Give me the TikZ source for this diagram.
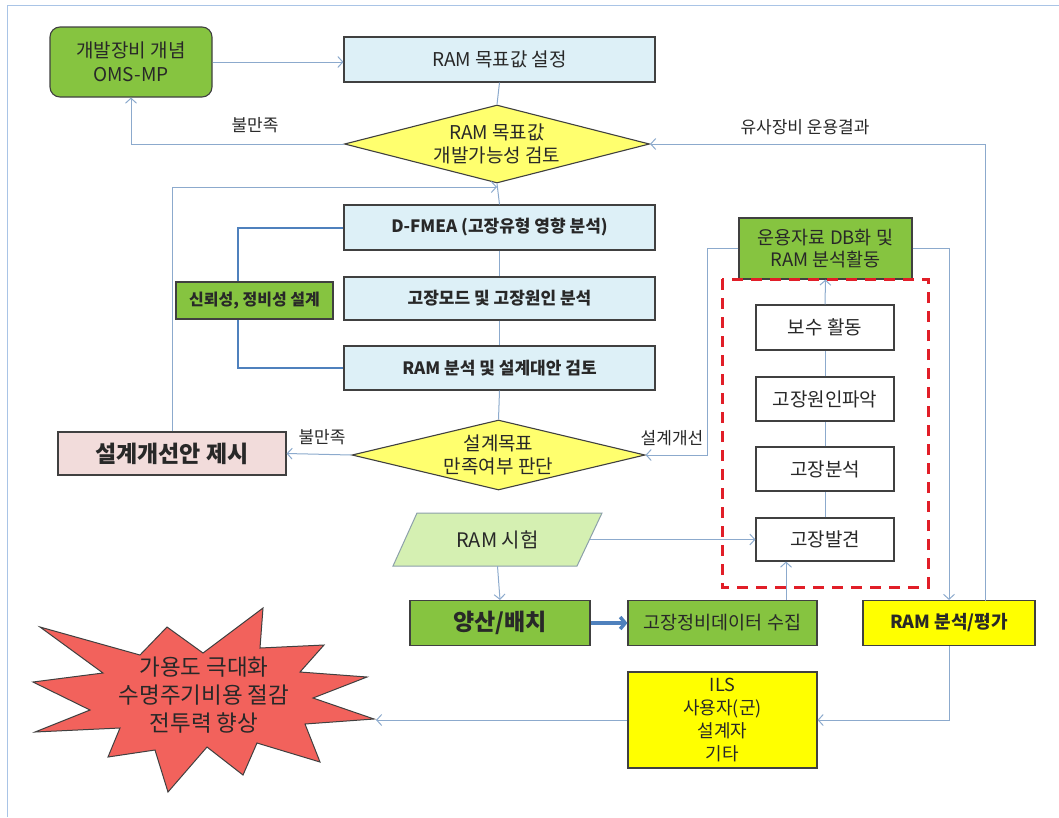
\documentclass[tikz,border=0pt]{standalone}
\usepackage{fontspec}
\setmainfont{Noto Sans CJK KR}
\usetikzlibrary{arrows.meta,shapes.geometric,calc}
\definecolor{framec}{RGB}{169,196,230}
\definecolor{connc}{RGB}{140,170,205}
\definecolor{bracketc}{RGB}{79,129,189}
\definecolor{boxline}{RGB}{64,64,64}
\definecolor{lblue}{RGB}{221,240,247}
\definecolor{greenf}{RGB}{134,196,64}
\definecolor{ydia}{RGB}{255,255,110}
\definecolor{ybox}{RGB}{255,255,0}
\definecolor{pinkf}{RGB}{242,220,219}
\definecolor{starf}{RGB}{242,98,92}
\definecolor{redd}{RGB}{225,30,40}
\definecolor{rtfill}{RGB}{213,240,178}
\definecolor{rtline}{RGB}{140,160,170}
\definecolor{txt}{RGB}{40,40,40}
\newcommand\myfs[2]{\fontsize{#1}{#2}\selectfont}
\begin{document}
\begin{tikzpicture}[x=1pt,y=-1pt,
  box/.style={draw=boxline, line width=1.1pt, inner sep=0pt, align=center, text=txt, font=\myfs{19}{23}},
  bluebox/.style={box, fill=lblue, minimum width=311pt, minimum height=45pt},
  greenbox/.style={box, fill=greenf},
  whitebox/.style={box, fill=white, minimum width=138pt, minimum height=44pt},
  dia/.style={box, shape=diamond, fill=ydia, draw=boxline},
  conn/.style={draw=connc, line width=1pt},
  arr/.style={conn, -{Straight Barb[length=5pt,width=11pt]}},
  lbl/.style={font=\myfs{17}{20}, text=txt, inner sep=0pt}]
\useasboundingbox (0,0) rectangle (1059,817);
% frame
\draw[framec, line width=1pt] (7,817) -- (7,5) -- (1059,5);

% nodes top
\node[greenbox, rounded corners=10pt, minimum width=162pt, minimum height=70pt, font=\myfs{19}{24}] (oms) at (131,62) {개발장비 개념\\OMS-MP};
\node[bluebox] (ramset) at (499.5,59.5) {RAM 목표값 설정};
\node[dia, aspect=3.9, minimum width=305pt, minimum height=78pt] (d1) at (497,144) {RAM 목표값\\개발가능성 검토};
\node[bluebox, font=\myfs{17}{22}\bfseries] (dfmea) at (499.5,227.5) {D-FMEA (고장유형 영향 분석)};
\node[bluebox, minimum height=43pt, font=\myfs{17}{22}\bfseries] (mode) at (499.5,298.5) {고장모드 및 고장원인 분석};
\node[bluebox, minimum height=44pt, font=\myfs{17}{22}\bfseries] (ramana) at (499.5,368) {RAM 분석 및 설계대안 검토};
\node[dia, aspect=4.2, minimum width=293pt, minimum height=70pt] (d2) at (498.5,455) {설계목표\\만족여부 판단};

% bracket (behind green box)
\draw[bracketc, line width=2pt] (dfmea.west) -- (238,227.5) -- (238,368) -- (ramana.west);
\node[greenbox, minimum width=157pt, minimum height=37pt, font=\myfs{16}{22}\bfseries] (reldes) at (254.5,300.5) {신뢰성, 정비성 설계};

\node[box, fill=pinkf, minimum width=228pt, minimum height=43pt, font=\myfs{23}{28}\bfseries] (improve) at (172,453.5) {설계개선안 제시};

% right column
\node[greenbox, minimum width=173pt, minimum height=61pt, font=\myfs{18.5}{22}] (opdb) at (825.5,248.5) {운용자료 DB화 및\\RAM 분석활동};
\draw[redd, line width=3pt, dash pattern=on 11pt off 8pt] (722,279) rectangle (928,587);
\node[whitebox, minimum height=45pt] (bosu) at (825,327.5) {보수 활동};
\node[whitebox] (cause) at (825,399) {고장원인파악};
\node[whitebox] (anal) at (825,469) {고장분석};
\node[whitebox, minimum height=43pt] (found) at (825,539.5) {고장발견};

% RAM test parallelogram
\filldraw[fill=rtfill, draw=rtline, line width=1pt] (393,566) -- (417,513) -- (602,513) -- (577,566) -- cycle;
\node[inner sep=0pt, minimum width=184pt, minimum height=53pt, font=\myfs{20}{24}, text=txt] (rt) at (497.5,539.5) {RAM 시험};

% bottom row
\node[greenbox, minimum width=180pt, minimum height=45pt, font=\myfs{23}{27}\bfseries] (mass) at (500,623) {양산/배치};
\node[greenbox, minimum width=189pt, minimum height=45pt, font=\myfs{18.5}{22}] (collect) at (722.5,623) {고장정비데이터 수집};
\node[box, fill=ybox, minimum width=172pt, minimum height=45pt, font=\myfs{18}{22}\bfseries] (rameval) at (949,623) {RAM 분석/평가};
\node[box, fill=ybox, minimum width=189pt, minimum height=96pt, font=\myfs{18}{23}] (ils) at (722.5,720) {ILS\\사용자(군)\\설계자\\기타};

% starburst
\filldraw[fill=starf, draw=boxline, line width=1pt] (40,627) -- (140,655) -- (167,627) -- (203,653) -- (263,608) -- (260,648) -- (324,645) -- (300,672) -- (367,677) -- (313,698) -- (374,719) -- (305,724) -- (320,762) -- (257,743) -- (243,775) -- (207,747) -- (168,792) -- (155,750) -- (108,757) -- (120,728) -- (35,732) -- (90,710) -- (33,682) -- (103,673) -- cycle;
\node[align=center, inner sep=0pt, font=\myfs{22.5}{28}, text=txt] (goal) at (204,695) {가용도 극대화\\수명주기비용 절감\\전투력 향상};
\coordinate (startip) at (376,720);

% connectors
\draw[arr] (oms.east) -- (oms.east -| ramset.west);
\draw[conn] (ramset.south) -- (d1.north);
\draw[arr] (d1.west) -| (oms.south);
\node[lbl] (l1) at (255,125) {불만족};
\coordinate (rv) at (985,601);
\draw[arr] (rv) |- (d1.east);
\node[lbl] (l2) at (805,127) {유사장비 운용결과};
\coordinate (j1) at (497,187);
\draw[arr] (improve.north) |- (j1);
\draw[conn] (d1.south) -- (dfmea.north);
\draw[conn] (dfmea.south) -- (mode.north);
\draw[conn] (mode.south) -- (ramana.north);
\draw[conn] (ramana.south) -- (d2.north);
\draw[arr] (d2.west) -- (improve.east);
\node[lbl] (l3) at (322,437) {불만족};
\draw[arr] (opdb.west) -- ++(-31,0) |- (d2.east);
\node[lbl] (l4) at (672,438) {설계개선};
\draw[conn] (found.north) -- (anal.south);
\draw[conn] (anal.north) -- (cause.south);
\draw[conn] (cause.north) -- (bosu.south);
\draw[arr] (bosu.north) -- (opdb.south);
\draw[arr] (rt.east) -- (found.west);
\draw[arr] (rt.south) -- (mass.north);
\draw[bracketc, line width=3.5pt, -{Straight Barb[length=5pt,width=12pt]}] (mass.east) -- (collect.west);
\draw[arr] ([xshift=63.5pt]collect.north) -- ([xshift=63.5pt]collect.north |- found.south);
\draw[arr] (opdb.east) -| (rameval.north);
\draw[arr] (rameval.south) |- (ils.east);
\draw[arr] (ils.west) -- (startip);
\end{tikzpicture}
\end{document}
